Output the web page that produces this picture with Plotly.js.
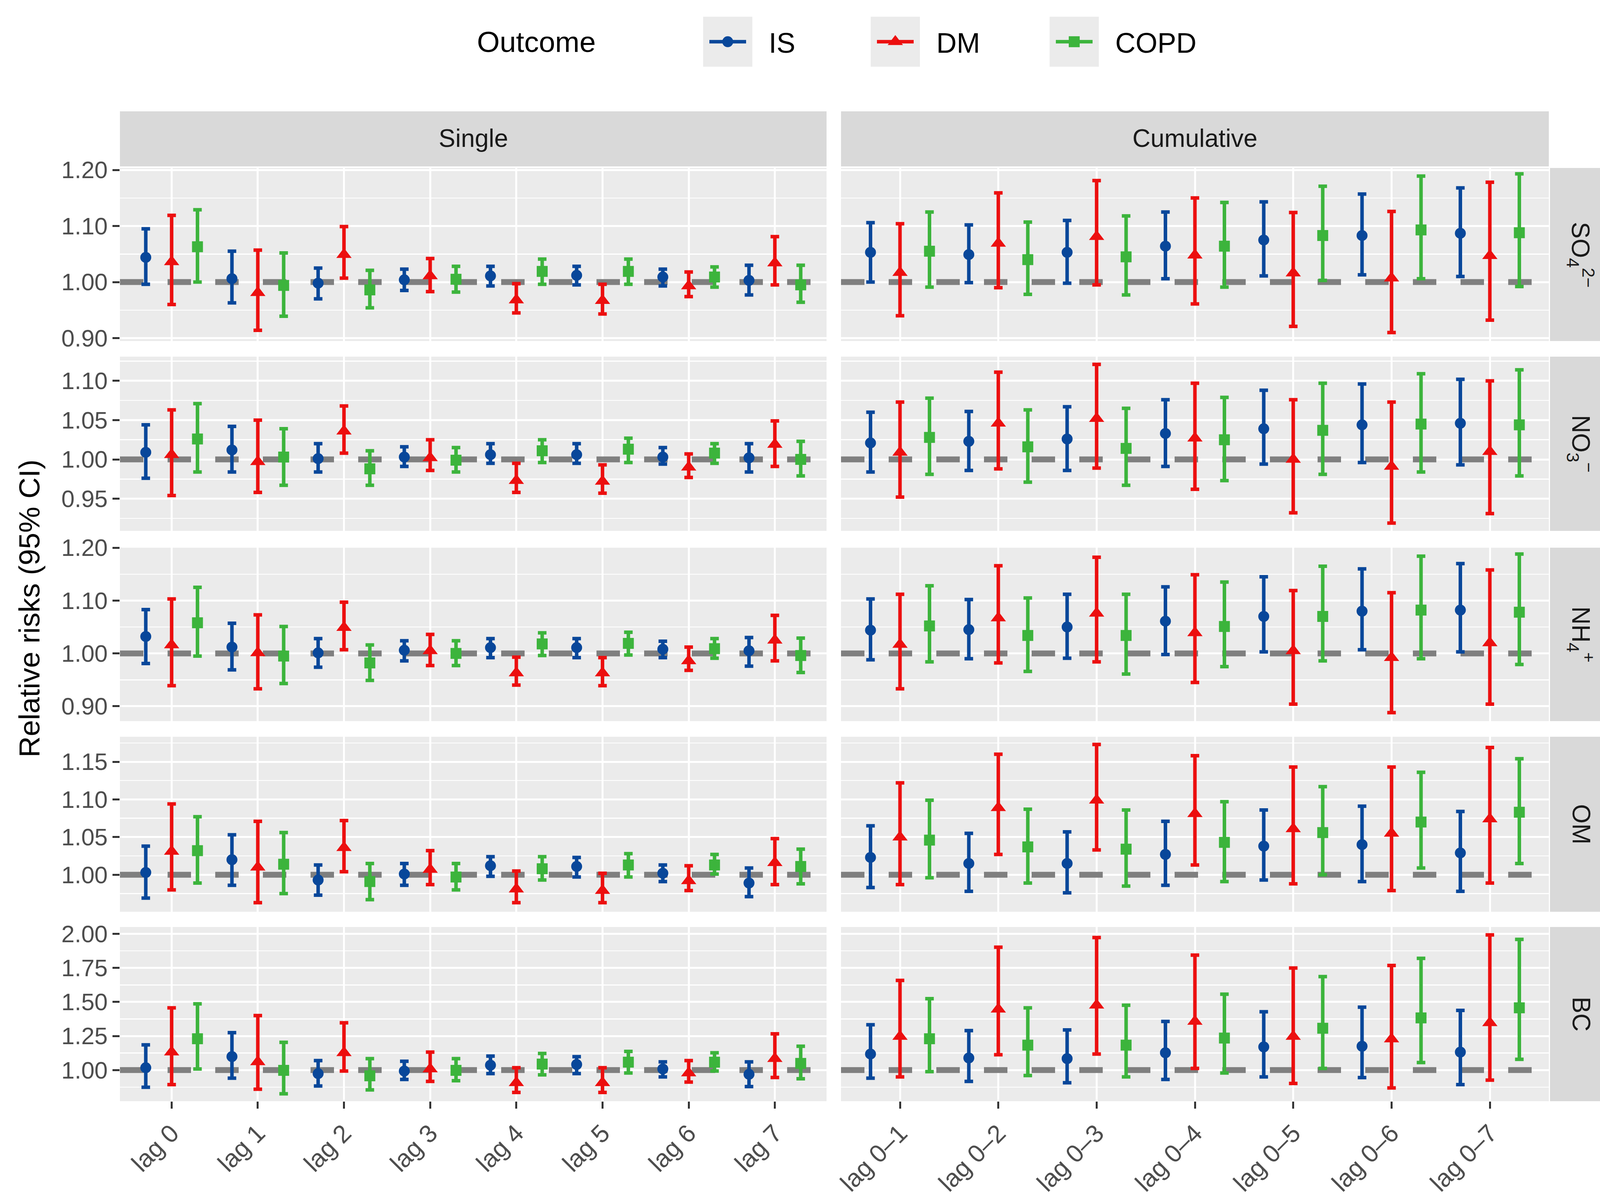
<!DOCTYPE html>
<html><head><meta charset="utf-8">
<script src="https://cdn.plot.ly/plotly-3.0.1.min.js"></script>
<style>html,body{margin:0;padding:0;background:#fff}#chart{width:4181px;height:3077px}</style>
</head><body><div id="chart"></div>
<script>
// ---------------- DATA ----------------
const lagSingle = ['lag 0','lag 1','lag 2','lag 3','lag 4','lag 5','lag 6','lag 7'];
const lagCum = ['lag 0\u20131','lag 0\u20132','lag 0\u20133','lag 0\u20134','lag 0\u20135','lag 0\u20136','lag 0\u20137'];
const outcomes = ['IS','DM','COPD'];
const pollutants = ['SO4','NO3','NH4','OM','BC'];
const pollutantLabels = ['SO<sub>4</sub><sup>2\u2212</sup>','NO<sub>3</sub><sup>\u2212</sup>','NH<sub>4</sub><sup>+</sup>','OM','BC'];
const panelTitles = ['Single','Cumulative'];
const yTickStep = [0.1, 0.05, 0.1, 0.05, 0.25];
const yTitle = 'Relative risks (95% CI)';
const legendTitle = 'Outcome';

// each entry: [RR, lower 95% CI, upper 95% CI]
const SO4_single_IS   = [[1.044,0.996,1.095],[1.006,0.963,1.055],[0.998,0.970,1.025],[1.004,0.985,1.023],[1.011,0.993,1.028],[1.012,0.995,1.028],[1.009,0.993,1.023],[1.003,0.977,1.030]];
const SO4_single_DM   = [[1.036,0.960,1.119],[0.981,0.914,1.057],[1.049,1.007,1.099],[1.011,0.983,1.042],[0.968,0.945,0.997],[0.967,0.943,0.996],[0.993,0.974,1.018],[1.034,0.995,1.081]];
const SO4_single_COPD = [[1.063,1.000,1.129],[0.994,0.939,1.052],[0.986,0.954,1.021],[1.005,0.982,1.028],[1.019,0.996,1.041],[1.019,0.996,1.041],[1.009,0.991,1.027],[0.995,0.964,1.030]];
const SO4_cum_IS   = [[1.053,1.000,1.106],[1.049,0.999,1.102],[1.053,0.998,1.110],[1.064,1.006,1.125],[1.075,1.011,1.143],[1.083,1.013,1.157],[1.087,1.010,1.168]];
const SO4_cum_DM   = [[1.017,0.940,1.104],[1.069,0.990,1.159],[1.081,0.995,1.181],[1.048,0.961,1.150],[1.016,0.921,1.124],[1.007,0.910,1.126],[1.047,0.932,1.178]];
const SO4_cum_COPD = [[1.055,0.991,1.125],[1.040,0.978,1.107],[1.045,0.977,1.118],[1.064,0.991,1.142],[1.083,1.003,1.171],[1.093,1.006,1.189],[1.088,0.992,1.193]];

const NO3_single_IS   = [[1.009,0.976,1.044],[1.012,0.984,1.042],[1.001,0.984,1.020],[1.003,0.991,1.016],[1.006,0.995,1.020],[1.006,0.995,1.020],[1.003,0.994,1.015],[1.002,0.984,1.020]];
const NO3_single_DM   = [[1.006,0.954,1.063],[0.997,0.958,1.050],[1.036,1.008,1.068],[1.002,0.986,1.025],[0.973,0.958,0.995],[0.972,0.957,0.993],[0.990,0.977,1.007],[1.019,0.991,1.049]];
const NO3_single_COPD = [[1.026,0.984,1.071],[1.003,0.967,1.039],[0.988,0.967,1.011],[0.999,0.984,1.015],[1.011,0.996,1.025],[1.013,0.996,1.027],[1.008,0.995,1.020],[1.000,0.979,1.023]];
const NO3_cum_IS   = [[1.021,0.984,1.060],[1.023,0.986,1.061],[1.026,0.986,1.067],[1.033,0.991,1.076],[1.039,0.994,1.088],[1.044,0.996,1.096],[1.046,0.993,1.102]];
const NO3_cum_DM   = [[1.009,0.952,1.073],[1.046,0.988,1.111],[1.052,0.989,1.121],[1.027,0.962,1.097],[1.000,0.932,1.076],[0.991,0.919,1.073],[1.010,0.931,1.100]];
const NO3_cum_COPD = [[1.028,0.981,1.078],[1.016,0.971,1.063],[1.014,0.967,1.065],[1.025,0.973,1.079],[1.037,0.981,1.097],[1.045,0.984,1.109],[1.044,0.979,1.114]];

const NH4_single_IS   = [[1.032,0.981,1.083],[1.012,0.969,1.057],[1.001,0.974,1.028],[1.006,0.986,1.024],[1.011,0.992,1.028],[1.011,0.992,1.028],[1.008,0.992,1.023],[1.005,0.976,1.030]];
const NH4_single_DM   = [[1.016,0.939,1.103],[1.001,0.933,1.073],[1.049,1.007,1.097],[1.005,0.977,1.036],[0.963,0.940,0.993],[0.963,0.939,0.992],[0.986,0.968,1.012],[1.025,0.986,1.072]];
const NH4_single_COPD = [[1.058,0.995,1.125],[0.995,0.943,1.051],[0.982,0.949,1.016],[1.000,0.977,1.024],[1.018,0.996,1.039],[1.019,0.997,1.040],[1.009,0.991,1.028],[0.996,0.964,1.029]];
const NH4_cum_IS   = [[1.044,0.988,1.103],[1.045,0.990,1.102],[1.050,0.991,1.112],[1.061,0.998,1.126],[1.070,1.003,1.145],[1.080,1.007,1.160],[1.082,1.003,1.170]];
const NH4_cum_DM   = [[1.017,0.933,1.112],[1.067,0.982,1.166],[1.076,0.984,1.182],[1.039,0.945,1.149],[1.005,0.904,1.119],[0.992,0.888,1.115],[1.020,0.904,1.158]];
const NH4_cum_COPD = [[1.052,0.984,1.128],[1.034,0.966,1.105],[1.034,0.961,1.112],[1.051,0.975,1.135],[1.070,0.986,1.165],[1.082,0.990,1.184],[1.078,0.979,1.188]];

const OM_single_IS   = [[1.003,0.969,1.038],[1.020,0.986,1.053],[0.993,0.973,1.013],[1.001,0.986,1.015],[1.012,0.998,1.024],[1.011,0.997,1.023],[1.002,0.991,1.013],[0.989,0.971,1.009]];
const OM_single_DM   = [[1.031,0.980,1.094],[1.010,0.963,1.071],[1.036,1.004,1.072],[1.007,0.987,1.032],[0.981,0.963,1.005],[0.979,0.963,1.002],[0.992,0.979,1.012],[1.016,0.987,1.048]];
const OM_single_COPD = [[1.032,0.989,1.077],[1.014,0.975,1.056],[0.991,0.967,1.015],[0.997,0.980,1.015],[1.008,0.993,1.024],[1.013,0.997,1.028],[1.013,1.001,1.027],[1.011,0.988,1.034]];
const OM_cum_IS   = [[1.023,0.983,1.065],[1.015,0.978,1.055],[1.015,0.976,1.057],[1.027,0.986,1.071],[1.038,0.993,1.086],[1.040,0.991,1.091],[1.029,0.978,1.084]];
const OM_cum_DM   = [[1.050,0.987,1.122],[1.089,1.027,1.160],[1.099,1.033,1.173],[1.081,1.013,1.158],[1.061,0.988,1.143],[1.055,0.979,1.143],[1.074,0.989,1.169]];
const OM_cum_COPD = [[1.046,0.996,1.099],[1.037,0.989,1.087],[1.034,0.985,1.086],[1.043,0.991,1.097],[1.056,1.000,1.117],[1.070,1.009,1.136],[1.083,1.015,1.154]];

const BC_single_IS   = [[1.017,0.874,1.185],[1.099,0.941,1.275],[0.974,0.883,1.070],[0.993,0.931,1.065],[1.036,0.974,1.103],[1.041,0.974,1.098],[1.008,0.950,1.060],[0.969,0.879,1.060]];
const BC_single_DM   = [[1.132,0.893,1.457],[1.060,0.860,1.400],[1.127,0.993,1.347],[1.008,0.917,1.132],[0.907,0.836,1.017],[0.907,0.836,1.017],[0.979,0.912,1.070],[1.084,0.946,1.266]];
const BC_single_COPD = [[1.230,1.008,1.486],[0.998,0.826,1.204],[0.958,0.855,1.084],[0.998,0.922,1.084],[1.044,0.965,1.122],[1.058,0.979,1.137],[1.058,0.993,1.127],[1.049,0.936,1.175]];
const BC_cum_IS   = [[1.118,0.941,1.333],[1.089,0.917,1.290],[1.084,0.907,1.295],[1.127,0.931,1.357],[1.170,0.950,1.428],[1.175,0.945,1.462],[1.132,0.893,1.438]];
const BC_cum_DM   = [[1.247,0.950,1.658],[1.447,1.113,1.902],[1.476,1.118,1.973],[1.357,1.012,1.844],[1.247,0.902,1.749],[1.228,0.869,1.768],[1.347,0.926,1.992]];
const BC_cum_COPD = [[1.230,0.989,1.524],[1.183,0.960,1.457],[1.183,0.950,1.476],[1.235,0.979,1.557],[1.307,1.012,1.686],[1.383,1.055,1.820],[1.457,1.079,1.959]];

// table built from the arrays above
const table = {
  SO4: {single: {IS: SO4_single_IS, DM: SO4_single_DM, COPD: SO4_single_COPD}, cum: {IS: SO4_cum_IS, DM: SO4_cum_DM, COPD: SO4_cum_COPD}},
  NO3: {single: {IS: NO3_single_IS, DM: NO3_single_DM, COPD: NO3_single_COPD}, cum: {IS: NO3_cum_IS, DM: NO3_cum_DM, COPD: NO3_cum_COPD}},
  NH4: {single: {IS: NH4_single_IS, DM: NH4_single_DM, COPD: NH4_single_COPD}, cum: {IS: NH4_cum_IS, DM: NH4_cum_DM, COPD: NH4_cum_COPD}},
  OM:  {single: {IS: OM_single_IS,  DM: OM_single_DM,  COPD: OM_single_COPD},  cum: {IS: OM_cum_IS,  DM: OM_cum_DM,  COPD: OM_cum_COPD}},
  BC:  {single: {IS: BC_single_IS,  DM: BC_single_DM,  COPD: BC_single_COPD},  cum: {IS: BC_cum_IS,  DM: BC_cum_DM,  COPD: BC_cum_COPD}}
};

// ---------------- STYLE / LAYOUT ----------------
const W = 4181, H = 3077;
const FONT = 'Liberation Sans, Arial, sans-serif';
const colors = {IS: '#08479A', DM: '#EC0F0F', COPD: '#3CB43C'};
const symbols = {IS: 'circle', DM: 'triangle-up', COPD: 'square'};
const msize = {IS: 28, DM: 34, COPD: 28};
const dodge = {IS: -0.3, DM: 0, COPD: 0.3};
const rowPx = [[430,873],[913,1359],[1402,1846],[1886,2334],[2373,2819]];
const yRanges = [[0.8948,1.2035],[0.909,1.1308],[0.8719,1.2001],[0.9509,1.1832],[0.7715,2.0502]];
const colPx = [[307,2116],[2153,3965]];
const stripTop = [285,426];
const stripRight = [3968,4127];
const px = v => v / W, py = v => 1 - v / H;

const traces = [];
const shapes = [];
const annotations = [];
const cols = ['single','cum'];
const xRanges = [[-0.6, lagSingle.length - 0.4], [-0.6, lagCum.length - 0.4]];

pollutants.forEach((p, r) => {
  const ya = r === 0 ? 'y' : 'y' + (r + 1);
  cols.forEach((c, ci) => {
    const xa = ci === 0 ? 'x' : 'x2';
    // reference line at RR = 1
    shapes.push({type: 'line', xref: xa, x0: xRanges[ci][0], x1: xRanges[ci][1], yref: ya, y0: 1, y1: 1,
      layer: 'between', line: {color: '#7F7F7F', width: 15, dash: '60px,62px'}});
    outcomes.forEach(o => {
      const d = table[p][c][o];
      traces.push({
        type: 'scatter', mode: 'markers', xaxis: xa, yaxis: ya,
        x: d.map((v, i) => i + dodge[o]),
        y: d.map(v => v[0]),
        error_y: {type: 'data', symmetric: false,
          array: d.map(v => v[2] - v[0]), arrayminus: d.map(v => v[0] - v[1]),
          color: colors[o], thickness: 9, width: 11},
        marker: {symbol: symbols[o], size: msize[o], color: colors[o], line: {width: 0}},
        name: o, showlegend: false, hoverinfo: 'skip', cliponaxis: false
      });
    });
  });
  // right strip
  shapes.push({type: 'rect', xref: 'paper', yref: 'paper', x0: px(stripRight[0]), x1: px(stripRight[1]),
    y0: py(rowPx[r][1]), y1: py(rowPx[r][0]), fillcolor: '#D9D9D9', line: {width: 0}, layer: 'below'});
  annotations.push({xref: 'paper', yref: 'paper', x: px((stripRight[0] + stripRight[1]) / 2),
    y: py((rowPx[r][0] + rowPx[r][1]) / 2), xanchor: 'center', yanchor: 'middle',
    text: pollutantLabels[r], textangle: 90, showarrow: false,
    font: {family: FONT, size: 64, color: '#1A1A1A'}});
});

// legend-only entries
outcomes.forEach(o => {
  traces.push({type: 'scatter', mode: 'lines+markers', x: [null], y: [null], xaxis: 'x', yaxis: 'y',
    name: o, showlegend: true, line: {color: colors[o], width: 9},
    marker: {symbol: symbols[o], size: 16, color: colors[o]},
    legendwidth: o === 'IS' ? 214 : (o === 'DM' ? 243 : 0)});
});

// top strips
colPx.forEach((cp, ci) => {
  shapes.push({type: 'rect', xref: 'paper', yref: 'paper', x0: px(cp[0]), x1: px(cp[1]),
    y0: py(stripTop[1]), y1: py(stripTop[0]), fillcolor: '#D9D9D9', line: {width: 0}, layer: 'below'});
  annotations.push({xref: 'paper', yref: 'paper', x: px((cp[0] + cp[1]) / 2), y: py(354),
    xanchor: 'center', yanchor: 'middle',
    text: panelTitles[ci], showarrow: false, font: {family: FONT, size: 64, color: '#1A1A1A'}});
});

annotations.push({xref: 'paper', yref: 'paper', x: px(75), y: py(1558), xanchor: 'center', yanchor: 'middle',
  text: yTitle, textangle: -90, showarrow: false, font: {family: FONT, size: 75, color: '#000'}});
annotations.push({xref: 'paper', yref: 'paper', x: px(1373), y: py(107), xanchor: 'center', yanchor: 'middle',
  text: legendTitle, showarrow: false, font: {family: FONT, size: 75, color: '#000'}});

const tickCommon = {ticks: 'outside', ticklen: 18, tickwidth: 5, tickcolor: '#333333',
  showgrid: true, gridcolor: '#FFFFFF', gridwidth: 5, zeroline: false, showline: false, fixedrange: true};

const layout = {
  width: W, height: H, margin: {l: 0, r: 0, t: 0, b: 0},
  paper_bgcolor: '#FFFFFF', plot_bgcolor: '#EBEBEB',
  font: {family: FONT, color: '#000'},
  showlegend: true,
  legend: {orientation: 'h', x: px(1758), xanchor: 'left', y: py(107), yanchor: 'middle',
    font: {family: FONT, size: 72, color: '#000'}, itemwidth: 200, bgcolor: 'rgba(0,0,0,0)',
    traceorder: 'normal', itemclick: false, itemdoubleclick: false},
  shapes: shapes, annotations: annotations,
  xaxis: Object.assign({}, tickCommon, {domain: [px(colPx[0][0]), px(colPx[0][1])], anchor: 'y5',
    range: xRanges[0], tickmode: 'array', tickvals: lagSingle.map((s, i) => i),
    ticktext: lagSingle, tickangle: -45, tickfont: {family: FONT, size: 64, color: '#4D4D4D'}}),
  xaxis2: Object.assign({}, tickCommon, {domain: [px(colPx[1][0]), px(colPx[1][1])], anchor: 'y5',
    range: xRanges[1], tickmode: 'array', tickvals: lagCum.map((s, i) => i),
    ticktext: lagCum, tickangle: -45, tickfont: {family: FONT, size: 64, color: '#4D4D4D'}})
};
pollutants.forEach((p, r) => {
  const key = r === 0 ? 'yaxis' : 'yaxis' + (r + 1);
  layout[key] = Object.assign({}, tickCommon, {
    domain: [py(rowPx[r][1]), py(rowPx[r][0])], anchor: 'x', range: yRanges[r],
    tick0: 0, dtick: yTickStep[r], tickformat: '.2f',
    tickfont: {family: FONT, size: 61, color: '#4D4D4D'},
    minor: {dtick: yTickStep[r] / 2, showgrid: true, gridcolor: '#FFFFFF', gridwidth: 2.5, ticks: ''}
  });
});

function tweakLegend() {
  try {
    gd.querySelectorAll('.legend [clip-path]').forEach(el => el.removeAttribute('clip-path'));
    const NS = 'http://www.w3.org/2000/svg';
    gd.querySelectorAll('.legend .traces').forEach((tr, i) => {
      const o = outcomes[i];
      if (!o || tr.getAttribute('data-tweaked')) return;
      tr.setAttribute('data-tweaked', '1');
      const layers = tr.querySelector('.layers') || tr;
      const line = tr.querySelector('.legendlines path');
      const pts = tr.querySelectorAll('.legendpoints path');
      let cx = 105, cy = 0;
      if (line) {
        const bb = line.getBBox();
        cx = bb.x + bb.width / 2; cy = bb.y + bb.height / 2;
        line.setAttribute('d', 'M' + (cx - 47) + ',' + cy + 'h94');
        line.style.setProperty('stroke-width', '9px');
      }
      const rect = document.createElementNS(NS, 'rect');
      rect.setAttribute('x', cx - 63); rect.setAttribute('y', cy - 64);
      rect.setAttribute('width', 126); rect.setAttribute('height', 128);
      rect.setAttribute('fill', '#EBEBEB');
      layers.insertBefore(rect, layers.firstChild);
      const s = msize[o] / 16;
      pts.forEach(pt => pt.setAttribute('transform', (pt.getAttribute('transform') || '') + ' scale(' + s + ')'));
    });
  } catch (e) { console.log(e); }
}

const gd = document.getElementById('chart');
Plotly.newPlot(gd, traces, layout, {displayModeBar: false, staticPlot: true}).then(tweakLegend, tweakLegend);
</script>
</body></html>
